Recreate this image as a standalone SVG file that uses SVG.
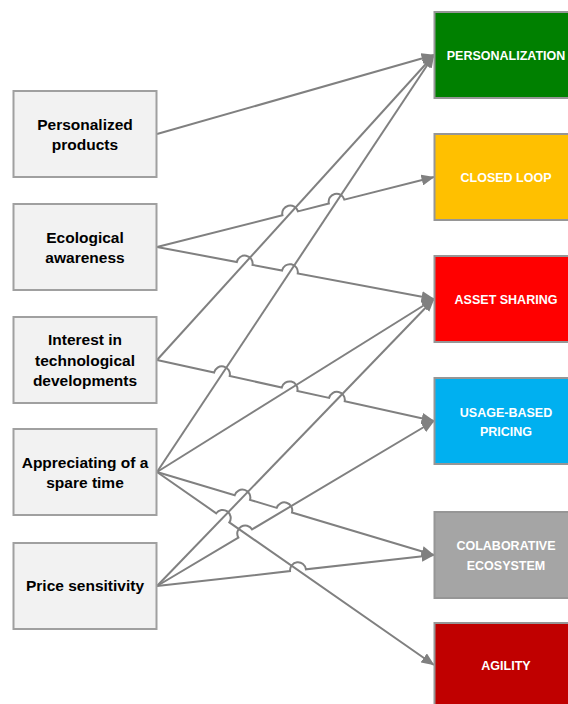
<svg xmlns="http://www.w3.org/2000/svg" width="568" height="704" viewBox="0 0 568 704">
<style>
.src rect{fill:#f2f2f2;stroke:#a0a0a0;stroke-width:2}
.src text{font-family:"Liberation Sans",Arial,sans-serif;font-weight:bold;font-size:15.5px;fill:#000;text-anchor:middle}
.dst rect{stroke:#969696;stroke-width:2}
.dst text{font-family:"Liberation Sans",Arial,sans-serif;font-weight:bold;font-size:12.5px;fill:#fff;text-anchor:middle}
#connectors path{fill:none;stroke:#808080;stroke-width:2;marker-end:url(#arr)}
</style>
<defs>
<marker id="arr" markerUnits="userSpaceOnUse" markerWidth="13" markerHeight="11" viewBox="0 0 13 11" refX="12.5" refY="5.5" orient="auto">
<path d="M0,0 L13,5.5 L0,11 z" fill="#808080"/>
</marker>
</defs>
<rect width="568" height="704" fill="#fff"/>

<g id="connectors">
<path d="M157,134 L434,55"/>
<path d="M157,247 L282.44,215.3 A8,8 0 0 1 297.95,211.38 L328.86,203.57 A8,8 0 0 1 344.37,199.65 L434,177"/>
<path d="M157,247 L236.82,261.98 A8,8 0 0 1 252.54,264.94 L282.03,270.47 A8,8 0 0 1 297.75,273.42 L434,299"/>
<path d="M157,360 L434,55"/>
<path d="M157,360 L214.09,372.57 A8,8 0 0 1 229.72,376.01 L281.77,387.48 A8,8 0 0 1 297.39,390.92 L329.08,397.9 A8,8 0 0 1 344.7,401.34 L434,421"/>
<path d="M157,472 L434,55"/>
<path d="M157,472 L434,299"/>
<path d="M157,472 L234.68,495.28 A8,8 0 0 1 250.01,499.87 L276.67,507.86 A8,8 0 0 1 291.99,512.45 L434,555"/>
<path d="M157,472 L216.22,513.27 A8,8 0 0 1 229.35,522.41 L434,665"/>
<path d="M157,586 L434,299"/>
<path d="M157,586 L238.33,537.55 A8,8 0 0 1 252.08,529.37 L434,421"/>
<path d="M157,586 L290.02,571.11 A8,8 0 0 1 305.92,569.33 L434,555"/>
</g>

<g id="personalized-products" class="src">
<rect x="13.5" y="91" width="143" height="86"/>
<text x="85" y="129.5">Personalized</text>
<text x="85" y="150">products</text>
</g>
<g id="ecological-awareness" class="src">
<rect x="13.5" y="204" width="143" height="86"/>
<text x="85" y="242.5">Ecological</text>
<text x="85" y="263">awareness</text>
</g>
<g id="interest-tech" class="src">
<rect x="13.5" y="317" width="143" height="86"/>
<text x="85" y="345">Interest in</text>
<text x="85" y="365.5">technological</text>
<text x="85" y="386">developments</text>
</g>
<g id="appreciating-spare-time" class="src">
<rect x="13.5" y="429" width="143" height="86"/>
<text x="85" y="467.5">Appreciating of a</text>
<text x="85" y="488">spare time</text>
</g>
<g id="price-sensitivity" class="src">
<rect x="13.5" y="543" width="143" height="86"/>
<text x="85" y="591">Price sensitivity</text>
</g>

<g id="personalization" class="dst">
<rect x="434.5" y="12" width="144" height="86" fill="#008000"/>
<text x="506" y="59.5">PERSONALIZATION</text>
</g>
<g id="closed-loop" class="dst">
<rect x="434.5" y="134" width="144" height="86" fill="#ffc000"/>
<text x="506" y="181.5">CLOSED LOOP</text>
</g>
<g id="asset-sharing" class="dst">
<rect x="434.5" y="256" width="144" height="86" fill="#ff0000"/>
<text x="506" y="303.5">ASSET SHARING</text>
</g>
<g id="usage-based-pricing" class="dst">
<rect x="434.5" y="378" width="144" height="86" fill="#00b0f0"/>
<text x="506" y="416.5">USAGE-BASED</text>
<text x="506" y="436">PRICING</text>
</g>
<g id="colaborative-ecosystem" class="dst">
<rect x="434.5" y="512" width="144" height="86" fill="#a5a5a5"/>
<text x="506" y="550">COLABORATIVE</text>
<text x="506" y="569.5">ECOSYSTEM</text>
</g>
<g id="agility" class="dst">
<rect x="434.5" y="623" width="144" height="86" fill="#c00000"/>
<text x="506" y="670">AGILITY</text>
</g>
</svg>
